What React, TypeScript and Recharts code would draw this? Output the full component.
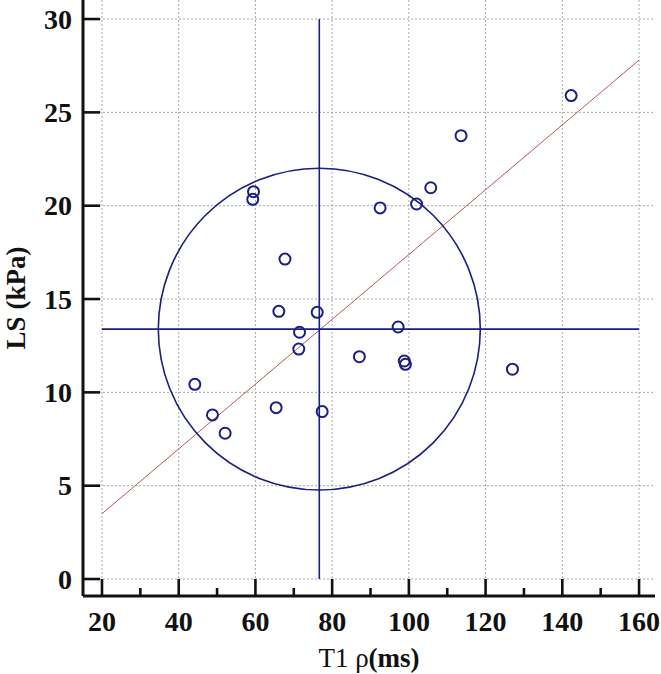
import React from 'react';
import {
  ScatterChart, Scatter, XAxis, YAxis, CartesianGrid, ReferenceLine, ReferenceDot,
} from 'recharts';

// T1 rho (ms) vs liver stiffness (kPa)
const t1rho = [142.3, 113.6, 105.7, 102.0, 92.5, 59.5, 59.3, 67.7, 66.1, 76.1, 71.5, 97.2, 71.3, 87.1, 98.8, 99.1, 127.0, 44.2, 48.8, 65.4, 77.4, 52.1];
const ls = [25.9, 23.75, 20.96, 20.09, 19.88, 20.75, 20.34, 17.14, 14.34, 14.29, 13.22, 13.5, 12.32, 11.91, 11.68, 11.5, 11.24, 10.43, 8.79, 9.18, 8.97, 7.81];

const xTicks = [20, 40, 60, 80, 100, 120, 140, 160];
const xMinorTicks = [30, 50, 70, 90, 110, 130, 150];
const yTicks = [0, 5, 10, 15, 20, 25, 30];

// regression line end points and median crosshair / ellipse
const fitLine = [{ x: 20, y: 3.5 }, { x: 160, y: 27.8 }];
const medianX = 76.65;
const medianY = 13.39;
const ellipseRadius = { x: 41.97, y: 8.62 };

const X_DOMAIN: [number, number] = [15.05, 164.16];
const Y_DOMAIN: [number, number] = [-0.91, 31.02];

const W = 661;
const H = 674;
const Y_AXIS_W = 83;
const X_AXIS_H = 78;
const MARGIN = { top: 0, right: 6, bottom: 0, left: 0 };
const PLOT_W = W - Y_AXIS_W - MARGIN.right;
const PLOT_H = H - X_AXIS_H - MARGIN.top;

const NAVY = '#1a1f80';
const FONT = '"Liberation Serif", "Times New Roman", serif';

const points = t1rho.map((x, i) => ({ x, y: ls[i] }));
const allXTicks = [...xTicks, ...xMinorTicks].sort((a, b) => a - b);

const XTick = (props: any) => {
  const { x, y, payload } = props;
  const major = payload.value % 20 === 0;
  return (
    <g>
      <line x1={x} x2={x} y1={y} y2={y - (major ? 17 : 8)} stroke="#111" strokeWidth={2.6} />
      {major && (
        <text x={x} y={y + 35} textAnchor="middle" fontFamily={FONT} fontWeight="bold" fontSize={28} fill="#111">
          {payload.value}
        </text>
      )}
    </g>
  );
};

const YTick = (props: any) => {
  const { x, y, payload } = props;
  return (
    <g>
      <line x1={x} x2={x + 17} y1={y} y2={y} stroke="#111" strokeWidth={2.6} />
      <text x={x - 11} y={y + 9.5} textAnchor="end" fontFamily={FONT} fontWeight="bold" fontSize={28} fill="#111">
        {payload.value}
      </text>
    </g>
  );
};

const pxPerX = PLOT_W / (X_DOMAIN[1] - X_DOMAIN[0]);
const pxPerY = PLOT_H / (Y_DOMAIN[1] - Y_DOMAIN[0]);

const EllipseShape = (p: any) => (
  <ellipse
    cx={p.cx}
    cy={p.cy}
    rx={ellipseRadius.x * pxPerX}
    ry={ellipseRadius.y * pxPerY}
    fill="none"
    stroke={NAVY}
    strokeWidth={1.6}
  />
);

const PointShape = (p: any) => (
  <circle cx={p.cx} cy={p.cy} r={5.5} fill="none" stroke={NAVY} strokeWidth={2} />
);

export default function App() {
  return (
    <div style={{ position: 'absolute', left: 0, top: 0, background: '#fff' }}>
      <ScatterChart width={W} height={H} margin={MARGIN}>
        <CartesianGrid
          stroke="#a8a8a8"
          strokeDasharray="2 2"
          verticalValues={xTicks}
          horizontalValues={yTicks}
        />
        <XAxis
          type="number"
          dataKey="x"
          domain={X_DOMAIN}
          ticks={allXTicks}
          allowDataOverflow
          interval={0}
          height={X_AXIS_H}
          tickSize={0}
          tickMargin={0}
          tick={<XTick />}
          axisLine={{ stroke: '#111', strokeWidth: 3 }}
          label={{
            content: (lp: any) => {
              const vb = lp.viewBox;
              return (
                <text x={vb.x + vb.width / 2} y={vb.y + 71} textAnchor="middle" fontFamily={FONT} fontSize={27} fill="#111">
                  <tspan>T1 ρ</tspan>
                  <tspan fontWeight="bold">(ms)</tspan>
                </text>
              );
            },
          }}
        />
        <YAxis
          type="number"
          dataKey="y"
          domain={Y_DOMAIN}
          ticks={yTicks}
          allowDataOverflow
          interval={0}
          width={Y_AXIS_W}
          tickSize={0}
          tickMargin={0}
          tick={<YTick />}
          axisLine={{ stroke: '#111', strokeWidth: 3 }}
          label={{
            content: (lp: any) => {
              const vb = lp.viewBox;
              const cx = vb.x + 25;
              const cy = vb.y + vb.height / 2;
              return (
                <text x={cx} y={cy} transform={`rotate(-90, ${cx}, ${cy})`} textAnchor="middle" fontFamily={FONT} fontWeight="bold" fontSize={27} fill="#111">
                  LS (kPa)
                </text>
              );
            },
          }}
        />
        <ReferenceLine segment={fitLine} stroke="#b35a5a" strokeWidth={1} />
        <ReferenceLine segment={[{ x: medianX, y: yTicks[0] }, { x: medianX, y: yTicks[yTicks.length - 1] }]} stroke={NAVY} strokeWidth={1.6} />
        <ReferenceLine segment={[{ x: xTicks[0], y: medianY }, { x: xTicks[xTicks.length - 1], y: medianY }]} stroke={NAVY} strokeWidth={1.6} />
        <ReferenceDot x={medianX} y={medianY} r={1} shape={EllipseShape} />
        <Scatter data={points} shape={PointShape} isAnimationActive={false} />
      </ScatterChart>
    </div>
  );
}
